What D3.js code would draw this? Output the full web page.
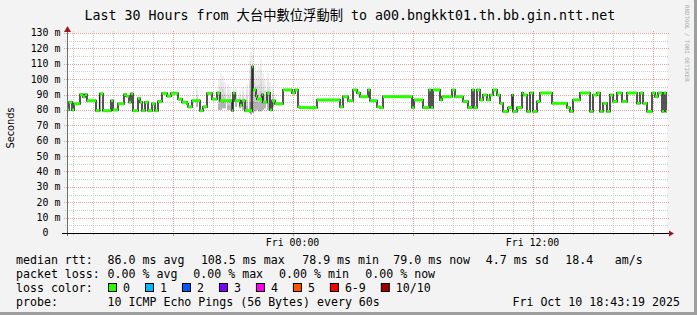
<!DOCTYPE html>
<html>
<head>
<meta charset="utf-8">
<script src="https://cdn.jsdelivr.net/npm/d3@7"></script>
<style>
  body { margin: 0; background: #f3f3f3; }
  svg { display: block; }
  text { font-family: "DejaVu Sans Mono", "Noto Sans CJK TC", monospace; fill: #000; }
</style>
</head>
<body>
<div id="chart"></div>
<script>
const title = "Last 30 Hours from 大台中數位浮動制 to a00.bngkkt01.th.bb.gin.ntt.net";
const endTime = new Date(2025, 9, 10, 18, 43, 19);
const spanHours = 30;
const yMaxMs = 130;

// median rtt, as step changes: minutes after the window start -> ms
const medianMinute = [
  0, 6, 15, 21, 39, 48, 54, 60, 87, 98, 108, 132, 138, 153, 171, 177, 186, 192, 198, 213,
  219, 225, 234, 243, 255, 264, 273, 285, 300, 312, 333, 345, 360, 363, 375, 399, 408, 420, 435, 450,
  459, 495, 498, 504, 519, 525, 534, 555, 558, 567, 570, 585, 588, 600, 609, 615, 624, 648, 675, 684,
  693, 699, 750, 819, 828, 843, 858, 870, 879, 903, 909, 930, 939, 948, 1035, 1041, 1068, 1086, 1092, 1098,
  1119, 1125, 1155, 1164, 1188, 1203, 1215, 1221, 1230, 1239, 1248, 1260, 1269, 1278, 1290, 1299, 1308, 1323, 1335, 1338,
  1350, 1365, 1368, 1380, 1389, 1398, 1410, 1419, 1455, 1500, 1509, 1518, 1539, 1569, 1578, 1590, 1599, 1608, 1620, 1629,
  1638, 1650, 1665, 1680, 1710, 1719, 1728, 1740, 1755, 1764, 1773, 1785, 1791, 1797
];
const medianMs = [
  80, 85, 80, 84, 90, 88.5, 90, 86, 79.5, 90.5, 79.5, 86, 80, 84, 90, 89, 85, 90.5, 79.5, 87.5,
  85, 79.5, 85, 79.5, 84, 79.5, 85.5, 90.8, 89, 90.8, 87, 85, 84, 82, 86, 79.5, 82, 90.8, 87, 91,
  86, 79.5, 91, 86, 83, 86, 79.5, 108, 93, 89, 87, 90, 85, 91, 80, 86, 84, 93, 91, 93,
  82, 81.5, 86.5, 82, 88.6, 86, 93, 91, 88.6, 93, 86, 82, 81.5, 88.6, 81.5, 86.5, 81.5, 93, 81.5, 93,
  86.5, 88.6, 93, 88.6, 85.5, 81.5, 93, 81.5, 93, 86.5, 89.7, 86.5, 89.7, 93, 89.7, 84.3, 79, 81.5, 89.7, 79,
  81.5, 91, 89.7, 79, 91, 79, 85.5, 91, 84.3, 81.5, 79, 86.5, 91, 79, 89.7, 91, 79, 84.3, 79, 89.7,
  85.5, 91, 85.5, 91, 84.3, 91, 84.3, 79, 91, 88.6, 91, 79, 91, 79
];

// spread of the single pings ("smoke") where it rises above the median
const smokeMinute = [390, 456, 462, 468, 474, 483, 489, 507, 519, 528, 540, 549, 552, 558, 564, 570, 576, 582, 588, 594, 603, 609, 618];
const smokeLowMs  = [82, 80, 80, 81, 81, 80, 80, 82, 81, 80, 79, 78, 77, 78, 79, 80, 79, 79, 80, 81, 80, 80, 82];
const smokeHighMs = [95, 100, 104, 102, 98, 97, 95, 94, 93, 95, 97, 112, 118, 116, 110, 106, 108, 113, 104, 100, 104, 98, 96];

const rttStats = [86.0, 108.5, 78.9, 79.0, 4.7];
const rttStatNames = ["ms avg", "ms max", "ms min", "ms now", "ms sd"];
const amPerSec = 18.4;
const lossStats = [0, 0, 0, 0];
const lossStatNames = ["% avg", "% max", "% min", "% now"];
const lossLabels = ["0", "1", "2", "3", "4", "5", "6-9", "10/10"];
const lossColors = ["#26ff00", "#00b8ff", "#0059ff", "#7e00ff", "#ff00ea", "#ff5500", "#ff0000", "#a10000"];
const probeText = "10 ICMP Echo Pings (56 Bytes) every 60s";

const width = 697;
const height = 315;
const plot = { left: 67, right: 667, top: 33, bottom: 233 };
const charW = 6.98;

const startTime = d3.timeHour.offset(endTime, -spanHours);
const x = d3.scaleTime().domain([startTime, endTime]).range([plot.left, plot.right]);
const y = d3.scaleLinear().domain([0, yMaxMs]).range([plot.bottom, plot.top]);
const at = (m) => d3.timeMinute.offset(startTime, m);

const svg = d3.select("#chart").append("svg")
  .attr("width", width)
  .attr("height", height);

svg.append("rect").attr("width", width).attr("height", height).attr("fill", "#f3f3f3");
svg.append("rect").attr("x", width - 3).attr("y", 0).attr("width", 3).attr("height", height).attr("fill", "#9e9e9e");
svg.append("rect").attr("x", 0).attr("y", height - 3).attr("width", width).attr("height", 3).attr("fill", "#9e9e9e");

svg.append("rect")
  .attr("x", plot.left).attr("y", plot.top)
  .attr("width", plot.right - plot.left).attr("height", plot.bottom - plot.top)
  .attr("fill", "#ffffff");

// grid
const hours = d3.timeHour.range(d3.timeHour.ceil(startTime), endTime);
const grid = svg.append("g").attr("stroke-dasharray", "1,1").attr("stroke-width", 1);

grid.selectAll(".vminor")
  .data(hours.filter((d) => d.getHours() % 6 !== 0))
  .join("line")
  .attr("x1", (d) => Math.round(x(d)) + 0.5).attr("x2", (d) => Math.round(x(d)) + 0.5)
  .attr("y1", plot.top - 2).attr("y2", plot.bottom)
  .attr("stroke", "#cfcfcf");

const yTicks = y.ticks(26);

grid.selectAll(".hminor")
  .data(yTicks.filter((d) => d % 10 !== 0))
  .join("line")
  .attr("x1", plot.left - 2).attr("x2", plot.right + 2)
  .attr("y1", (d) => Math.round(y(d)) + 0.5).attr("y2", (d) => Math.round(y(d)) + 0.5)
  .attr("stroke", "#cfcfcf");

grid.selectAll(".vmajor")
  .data(hours.filter((d) => d.getHours() % 6 === 0))
  .join("line")
  .attr("x1", (d) => Math.round(x(d)) + 0.5).attr("x2", (d) => Math.round(x(d)) + 0.5)
  .attr("y1", plot.top - 2).attr("y2", plot.bottom)
  .attr("stroke", "#e3a3a3");

grid.selectAll(".hmajor")
  .data(yTicks.filter((d) => d % 10 === 0 && d > 0))
  .join("line")
  .attr("x1", plot.left - 3).attr("x2", plot.right + 2)
  .attr("y1", (d) => Math.round(y(d)) + 0.5).attr("y2", (d) => Math.round(y(d)) + 0.5)
  .attr("stroke", "#e3a3a3");

// smoke in the noisy stretch
const smokeShades = [0.4, 0.28, 0.2, 0.13, 0.08];
const smoke = svg.append("g");
smokeMinute.forEach((m, i) => {
  const lo = smokeLowMs[i];
  const hi = smokeHighMs[i];
  smokeShades.forEach((a, k) => {
    const v0 = lo + (hi - lo) * k / smokeShades.length;
    const v1 = lo + (hi - lo) * (k + 1) / smokeShades.length;
    smoke.append("rect")
      .attr("x", x(at(m)) - 0.75)
      .attr("width", 1.5)
      .attr("y", y(v1))
      .attr("height", y(v0) - y(v1))
      .attr("fill", `rgba(0,0,0,${a})`);
  });
});

// steps between median levels show as dark smoke
const segments = medianMinute.map((m, i) => ({
  t0: at(m),
  t1: at(i + 1 < medianMinute.length ? medianMinute[i + 1] : spanHours * 60),
  v: medianMs[i],
  prev: i > 0 ? medianMs[i - 1] : medianMs[i],
}));

svg.append("g").selectAll("rect")
  .data(segments.slice(1))
  .join("rect")
  .attr("x", (d) => x(d.t0) - 0.75)
  .attr("width", 1.5)
  .attr("y", (d) => y(Math.max(d.v, d.prev)) - 1)
  .attr("height", (d) => Math.abs(y(d.v) - y(d.prev)) + 2)
  .attr("fill", "#1e1e1e");

svg.append("g").selectAll("rect")
  .data(segments)
  .join("rect")
  .attr("x", (d) => x(d.t0))
  .attr("width", (d) => Math.max(x(d.t1) - x(d.t0), 1))
  .attr("y", (d) => y(d.v) - 1.5)
  .attr("height", 3)
  .attr("fill", lossColors[0]);

// axes
svg.append("line")
  .attr("x1", plot.left + 0.5).attr("x2", plot.left + 0.5)
  .attr("y1", plot.bottom + 3).attr("y2", plot.top - 3)
  .attr("stroke", "#6e6e6e");

svg.append("g").selectAll("line")
  .data(hours)
  .join("line")
  .attr("x1", (d) => Math.round(x(d)) + 0.5).attr("x2", (d) => Math.round(x(d)) + 0.5)
  .attr("y1", plot.bottom).attr("y2", (d) => plot.bottom + (d.getHours() % 6 === 0 ? 3 : 2))
  .attr("stroke", (d) => d.getHours() % 6 === 0 ? "#e08080" : "#b8b8b8");

svg.append("line")
  .attr("x1", plot.left - 5).attr("x2", plot.right + 2)
  .attr("y1", plot.bottom + 0.5).attr("y2", plot.bottom + 0.5)
  .attr("stroke", "#000");

svg.append("path")
  .attr("d", `M${plot.left - 3},${plot.top - 1}L${plot.left + 0.5},${plot.top - 7}L${plot.left + 4},${plot.top - 1}Z`)
  .attr("fill", "#9b1c1c");
svg.append("path")
  .attr("d", `M${plot.right + 2},${plot.bottom - 2.5}L${plot.right + 7},${plot.bottom + 0.5}L${plot.right + 2},${plot.bottom + 3.5}Z`)
  .attr("fill", "#9b1c1c");

// y labels
const yLab = svg.append("g").style("font-size", "9.9px");
yLab.selectAll("text.num")
  .data(yTicks.filter((d) => d % 10 === 0))
  .join("text")
  .attr("x", 48.5)
  .attr("y", (d) => y(d))
  .attr("dy", "0.35em")
  .attr("text-anchor", "end")
  .text((d) => d);
yLab.selectAll("text.unit")
  .data(yTicks.filter((d) => d % 10 === 0 && d > 0))
  .join("text")
  .attr("x", 54.5)
  .attr("y", (d) => y(d))
  .attr("dy", "0.35em")
  .text("m");

svg.append("text")
  .attr("transform", "translate(14,128) rotate(-90)")
  .attr("text-anchor", "middle")
  .style("font-family", "'DejaVu Sans', sans-serif")
  .style("font-size", "9.8px")
  .text("Seconds");

// x labels
svg.append("g").selectAll("text")
  .data(hours.filter((d) => d.getHours() % 12 === 0))
  .join("text")
  .attr("x", (d) => x(d))
  .attr("y", 246)
  .attr("text-anchor", "middle")
  .style("font-size", "9.9px")
  .text(d3.timeFormat("%a %H:%M"));

// title and watermark
svg.append("text")
  .attr("x", 84.5)
  .attr("y", 19.5)
  .style("font-size", "13.3px")
  .text(title);

svg.append("text")
  .attr("transform", "translate(685,5) rotate(90)")
  .style("font-size", "5.8px")
  .style("fill", "#a8a8a8")
  .text("RRDTOOL / TOBI OETIKER");

// legend
const legend = svg.append("g").style("font-size", "11.6px").attr("xml:space", "preserve");
const rowY = [263.5, 277.5, 291.5, 305.5];
const rttCols = [107.6, 200.9, 302.2, 393.3, 485.8];
const lossCols = [107.6, 193.3, 279.1, 365.3];

legend.append("text").attr("x", 16).attr("y", rowY[0]).text("median rtt:");
rttStats.forEach((v, i) => {
  legend.append("text").attr("x", rttCols[i]).attr("y", rowY[0])
    .text(`${v.toFixed(1)} ${rttStatNames[i]}`);
});
legend.append("text").attr("x", 565.3).attr("y", rowY[0]).text(amPerSec.toFixed(1));
legend.append("text").attr("x", 614.7).attr("y", rowY[0]).text("am/s");

legend.append("text").attr("x", 16).attr("y", rowY[1]).text("packet loss:");
lossStats.forEach((v, i) => {
  legend.append("text").attr("x", lossCols[i]).attr("y", rowY[1])
    .text(`${v.toFixed(2)} ${lossStatNames[i]}`);
});

legend.append("text").attr("x", 16).attr("y", rowY[2]).text("loss color:");
let sx = 108;
lossLabels.forEach((lab, i) => {
  legend.append("rect")
    .attr("x", sx + 0.5).attr("y", rowY[2] - 8)
    .attr("width", 8).attr("height", 8)
    .attr("fill", lossColors[i])
    .attr("stroke", "#000");
  legend.append("text").attr("x", sx + 15).attr("y", rowY[2]).text(lab);
  sx += 15 + lab.length * charW + 15;
});

legend.append("text").attr("x", 16).attr("y", rowY[3]).text("probe:");
legend.append("text").attr("x", 107.6).attr("y", rowY[3]).text(probeText);
legend.append("text").attr("x", 680).attr("y", rowY[3]).attr("text-anchor", "end")
  .text(d3.timeFormat("%a %b %d %H:%M:%S %Y")(endTime));
</script>
</body>
</html>
